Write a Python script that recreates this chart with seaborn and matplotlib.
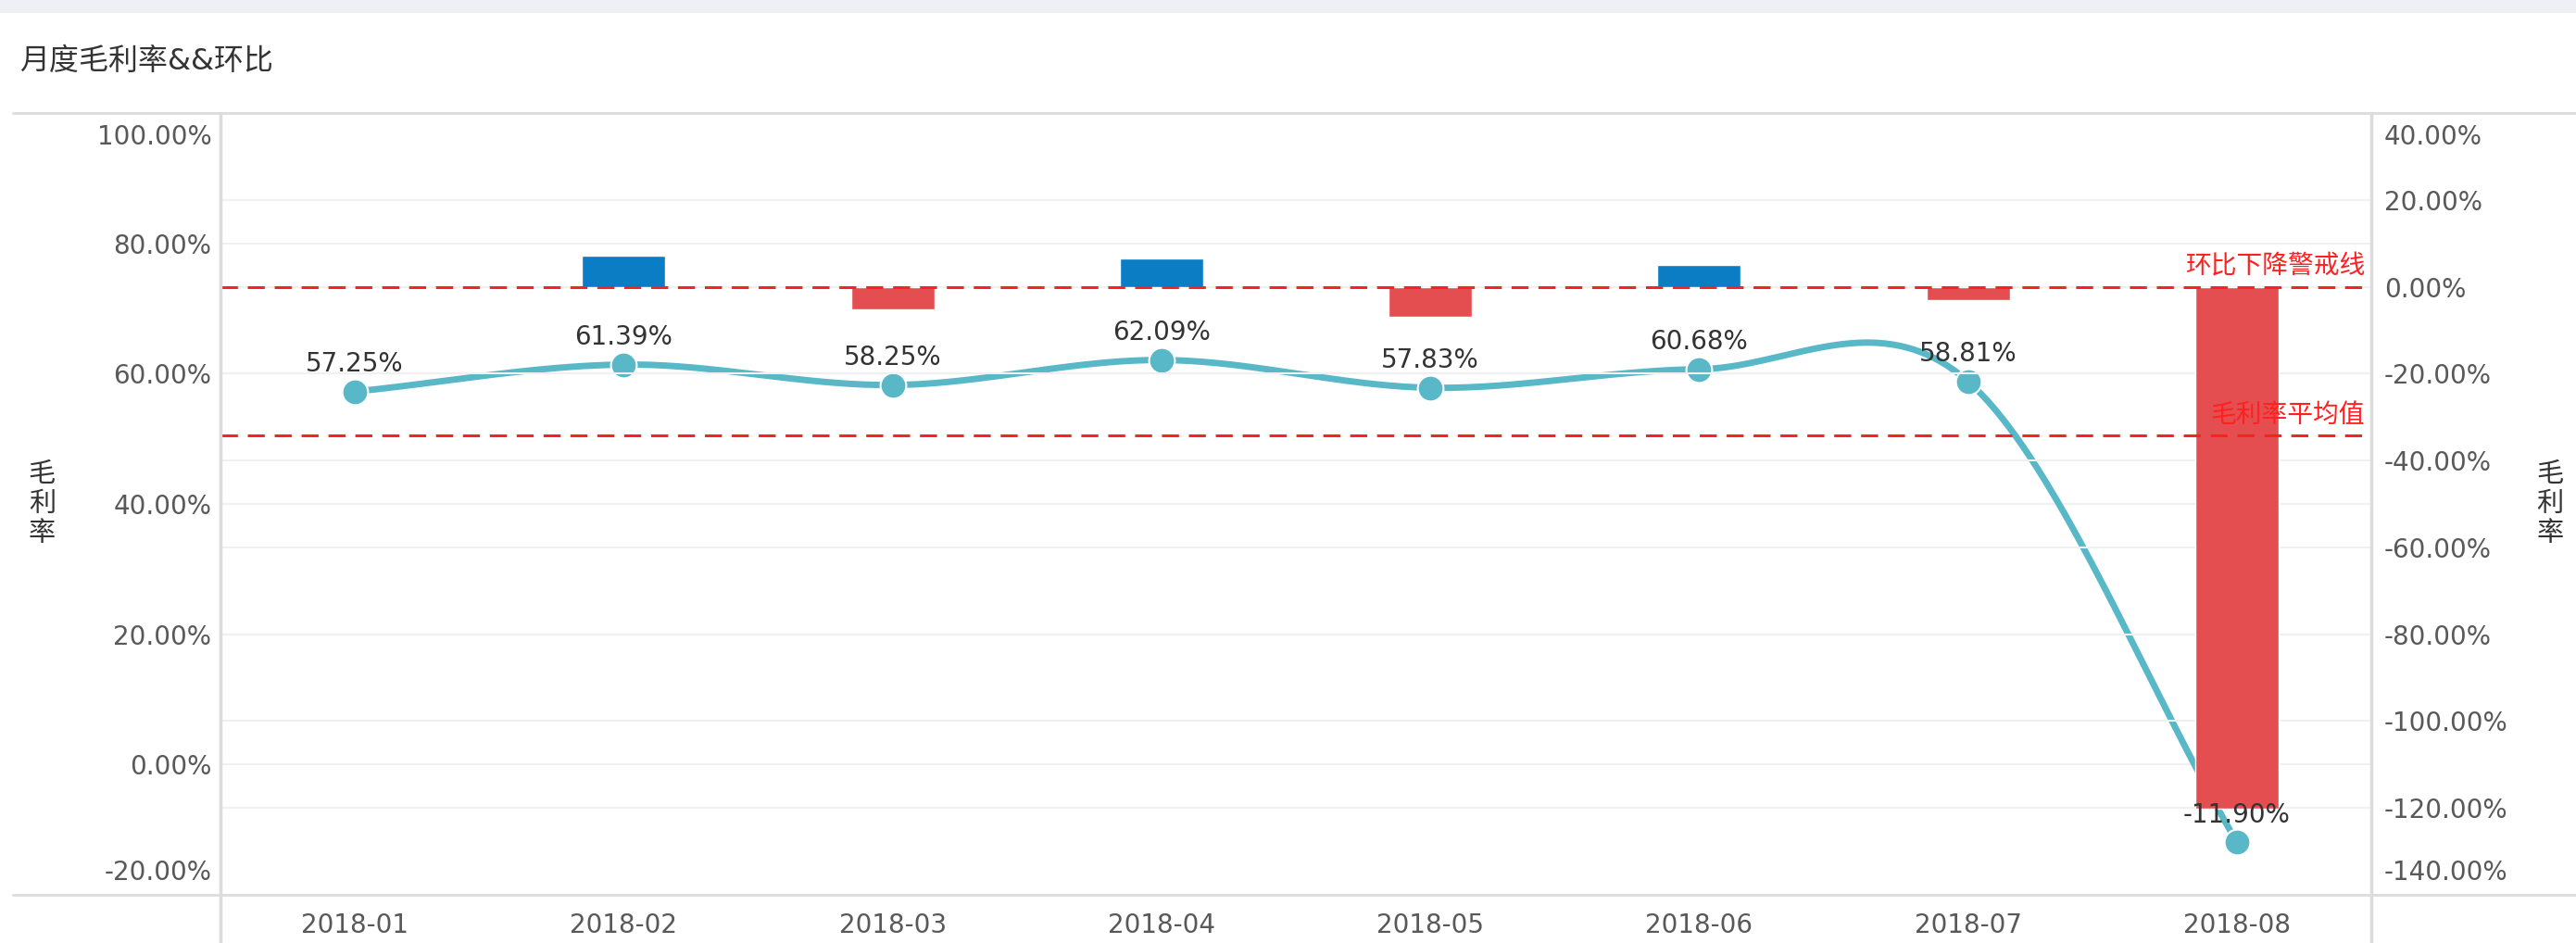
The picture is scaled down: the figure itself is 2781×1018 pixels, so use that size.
import numpy as np
import pandas as pd
import matplotlib
matplotlib.use('Agg')
import matplotlib.pyplot as plt
import seaborn as sns
from matplotlib.lines import Line2D
from matplotlib.patches import Rectangle
from matplotlib.transforms import blended_transform_factory, ScaledTranslation

# data
months = ['2018-01', '2018-02', '2018-03', '2018-04', '2018-05', '2018-06', '2018-07', '2018-08']
margin = [57.25, 61.39, 58.25, 62.09, 57.83, 60.68, 58.81, -11.90]        # 毛利率 (%)
mom = [np.nan, 7.23, -5.11, 6.59, -6.86, 4.93, -3.08, -120.23]            # 环比 (%)
margin_avg = 50.55
warn_level = 0.0
left_ticks = [-20, 0, 20, 40, 60, 80, 100]
right_ticks = [-140, -120, -100, -80, -60, -40, -20, 0, 20, 40]

sns.set_style('white')
plt.rcParams['font.family'] = ['DejaVu Sans', 'Noto Sans CJK SC']
plt.rcParams['axes.unicode_minus'] = False

W, H = 2781, 1018
fig = plt.figure(figsize=(W / 100, H / 100), dpi=100)
ax = fig.add_axes([238 / W, 1 - 966 / H, (2560 - 238) / W, (966 - 122) / H])
ax2 = ax.twinx()

line_c = '#58b8c8'
tick_c = '#595959'
fs = 20

# smooth line (cardinal spline through the points) + markers
x = np.arange(len(months))
y = np.array(margin, dtype=float)
xs, ys = [], []
for i in range(len(x) - 1):
    m0 = (y[i + 1] - y[i - 1]) / 2 if i > 0 else (y[1] - y[0])
    m1 = (y[i + 2] - y[i]) / 2 if i + 2 < len(x) else (y[i + 1] - y[i])
    t = np.linspace(0, 1, 40)
    h00 = 2 * t**3 - 3 * t**2 + 1
    h10 = t**3 - 2 * t**2 + t
    h01 = -2 * t**3 + 3 * t**2
    h11 = t**3 - t**2
    xs.append(x[i] + t)
    ys.append(h00 * y[i] + h10 * m0 + h01 * y[i + 1] + h11 * m1)
ax.plot(np.concatenate(xs), np.concatenate(ys), color=line_c, lw=5, solid_capstyle='round')
df = pd.DataFrame({'month': months, 'margin': margin, 'mom': mom})
sns.scatterplot(data=df, x='month', y='margin', ax=ax, color=line_c, s=400,
                edgecolor='white', linewidth=1.5, zorder=3, legend=False)

# bars on right axis
df['sign'] = np.where(df['mom'] >= 0, 'up', 'down')
sns.barplot(data=df, x='month', y='mom', hue='sign', order=months,
            palette={'up': '#0a7dc5', 'down': '#e54e50'}, width=0.31,
            dodge=False, ax=ax2, legend=False, saturation=1)

ax.set_xlim(-0.5, len(months) - 0.5)
ax.set_ylim(-20, 100)
ax2.set_ylim(-140, 40)

# reference lines (drawn on top of the bars)
tr_l = blended_transform_factory(ax2.transAxes, ax.transData)
ax2.plot([0, 1], [margin_avg, margin_avg], transform=tr_l, color='#ff2020',
         lw=2.2, ls=(0, (6, 3.5)), zorder=5)
ax2.axhline(warn_level, color='#ff2020', lw=2.2, ls=(0, (6, 3.5)), zorder=5)
ax2.annotate('环比下降警戒线', xy=(0.997, warn_level), xycoords=('axes fraction', 'data'),
             xytext=(0, 6), textcoords='offset points', ha='right', va='bottom',
             color='#ff2020', fontsize=fs, zorder=6)
ax2.annotate('毛利率平均值', xy=(0.997, margin_avg), xycoords=tr_l,
             xytext=(0, 6), textcoords='offset points', ha='right', va='bottom',
             color='#ff2020', fontsize=fs, zorder=6)

# value labels above points
for i, v in enumerate(margin):
    ax2.annotate(f'{v:.2f}%', xy=(i, v), xycoords=ax.transData,
                 xytext=(0, 11), textcoords='offset points', ha='center', va='bottom',
                 color='#333333', fontsize=fs, zorder=7)

# axes styling
ax.set_yticks(left_ticks, labels=[f'{v:.2f}%' for v in left_ticks])
ax2.set_yticks(right_ticks, labels=[f'{v:.2f}%' for v in right_ticks])
ax.tick_params(axis='y', length=0, pad=7, labelsize=fs, labelcolor=tick_c)
ax2.tick_params(axis='y', length=0, pad=10, labelsize=fs, labelcolor=tick_c)
ax.tick_params(axis='x', length=0, pad=14, labelsize=fs, labelcolor=tick_c)
ax2.tick_params(axis='x', length=0)
ax.set_xlabel('')
ax2.set_xlabel('')
ax.set_ylabel('毛\n利\n率', rotation=0, fontsize=21, color='#333333', linespacing=1.2, va='center')
ax.yaxis.set_label_coords(-0.083, 0.5)
ax2.set_ylabel('毛\n利\n率', rotation=0, fontsize=21, color='#333333', linespacing=1.2, va='center')
ax2.yaxis.set_label_coords(1.083, 0.5)

for a, ticks in ((ax, left_ticks), (ax2, right_ticks)):
    for v in ticks[1:-1]:
        a.axhline(v, color='#f0f0f0', lw=1.5, zorder=0)
    labs = a.get_yticklabels()
    labs[0].set_va('bottom')
    labs[0].set_transform(labs[0].get_transform() + ScaledTranslation(0, 10 / 100, fig.dpi_scale_trans))
    labs[-1].set_va('top')
    labs[-1].set_transform(labs[-1].get_transform() + ScaledTranslation(0, -12 / 100, fig.dpi_scale_trans))
for a in (ax, ax2):
    for s in a.spines.values():
        s.set_visible(False)

# frame lines and title
fc = '#dcdcdc'
fig.add_artist(Rectangle((0, 1 - 14 / H), 1, 14 / H, transform=fig.transFigure, color='#eef0f5', lw=0))
fig.add_artist(Line2D([14 / W, 1], [1 - 122 / H] * 2, color=fc, lw=2))
fig.add_artist(Line2D([14 / W, 1], [1 - 966 / H] * 2, color=fc, lw=2))
fig.add_artist(Line2D([238 / W] * 2, [0, 1 - 122 / H], color=fc, lw=2.5))
fig.add_artist(Line2D([2560 / W] * 2, [0, 1 - 122 / H], color=fc, lw=2.5))
fig.text(21 / W, 1 - 66 / H, '月度毛利率&&环比', fontsize=23, color='#333333', va='center', ha='left')

fig.savefig('out.png', dpi=100)
